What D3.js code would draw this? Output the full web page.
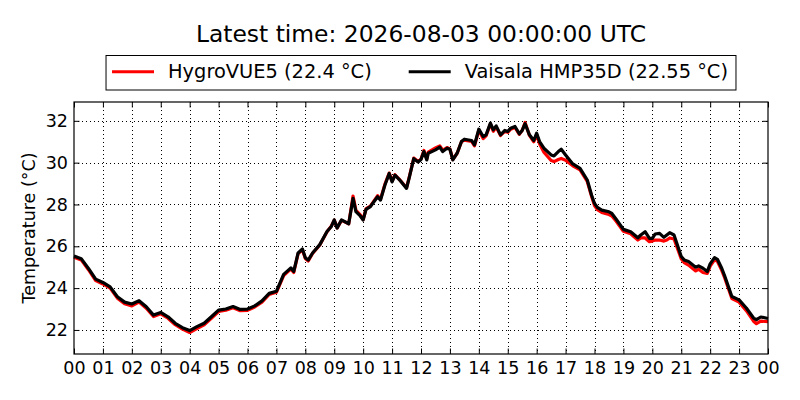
<!DOCTYPE html>
<html>
<head>
<meta charset="utf-8">
<script src="https://cdn.jsdelivr.net/npm/d3@7"></script>
<style>
  html, body { margin: 0; padding: 0; background: #fff; }
  svg { display: block; font-family: "DejaVu Sans", sans-serif; }
</style>
</head>
<body>
<svg id="chart" width="800" height="400"></svg>
<script>
// hours since 00 UTC
const hours = [
  0, 0.25, 0.5, 0.75, 1, 1.25, 1.5, 1.75, 2, 2.25, 2.5, 2.75, 3, 3.25, 3.5, 3.75,
  4, 4.25, 4.5, 4.75, 5, 5.25, 5.5, 5.75, 6, 6.25, 6.5, 6.75, 7, 7.25, 7.5, 7.6,
  7.75, 7.9, 8, 8.1, 8.25, 8.5, 8.75, 8.9, 9, 9.1, 9.25, 9.5, 9.65, 9.75, 9.9, 10,
  10.1, 10.25, 10.5, 10.6, 10.75, 10.9, 11, 11.1, 11.25, 11.5, 11.6, 11.75, 11.9, 12,
  12.1, 12.2, 12.25, 12.5, 12.65, 12.75, 12.9, 13, 13.1, 13.25, 13.4, 13.5, 13.75, 13.85, 14,
  14.15, 14.25, 14.4, 14.5, 14.6, 14.75, 14.9, 15, 15.1, 15.25, 15.4, 15.5, 15.6, 15.75,
  15.9, 16, 16.1, 16.25, 16.5, 16.6, 16.75, 16.85, 17, 17.25, 17.5, 17.75, 17.9, 18,
  18.1, 18.25, 18.5, 18.6, 18.75, 19, 19.25, 19.5, 19.6, 19.75, 19.9, 20, 20.1, 20.25,
  20.4, 20.5, 20.6, 20.75, 21, 21.1, 21.25, 21.5, 21.6, 21.75, 21.9, 22, 22.15, 22.25,
  22.4, 22.5, 22.75, 23, 23.25, 23.5, 23.6, 23.75, 24
];

const hygrovue = [
  25.48, 25.35, 24.88, 24.36, 24.2, 24.0, 23.52, 23.25, 23.15, 23.33, 23.04, 22.64, 22.77, 22.56, 22.25, 22.04,
  21.88, 22.06, 22.24, 22.56, 22.88, 22.94, 23.06, 22.92, 22.94, 23.1, 23.33, 23.7, 23.8, 24.6, 24.92, 24.75,
  25.65, 25.82, 25.42, 25.3, 25.66, 26.06, 26.7, 26.97, 27.25, 26.88, 27.24, 27.08, 28.4, 27.72, 27.5, 27.28,
  27.8, 27.92, 28.42, 28.25, 28.96, 29.5, 29.12, 29.42, 29.2, 28.8, 29.34, 30.22, 30.05, 30.17,
  30.58, 30.18, 30.5, 30.7, 30.8, 30.6, 30.72, 30.66, 30.15, 30.45, 31.0, 31.08, 31.02, 30.8, 31.55,
  31.15, 31.28, 31.85, 31.5, 31.7, 31.3, 31.5, 31.45, 31.6, 31.68, 31.35, 31.55, 31.92, 31.3,
  31.0, 31.35, 30.9, 30.5, 30.1, 30.05, 30.15, 30.2, 30.12, 29.85, 29.65, 29.1, 28.38, 27.95,
  27.75, 27.62, 27.52, 27.45, 27.2, 26.72, 26.6, 26.3, 26.4, 26.4, 26.22, 26.25, 26.3, 26.3,
  26.25, 26.3, 26.4, 26.35, 25.4, 25.22, 25.1, 24.82, 24.9, 24.75, 24.7, 25.05, 25.35, 25.28,
  24.85, 24.5, 23.5, 23.33, 22.92, 22.42, 22.3, 22.42, 22.4
];

const vaisala = [
  25.54, 25.41, 24.94, 24.43, 24.27, 24.06, 23.59, 23.33, 23.24, 23.4, 23.11, 22.71, 22.84, 22.63, 22.32, 22.11,
  21.97, 22.16, 22.32, 22.63, 22.95, 23.0, 23.12, 22.98, 23.0, 23.15, 23.39, 23.75, 23.85, 24.66, 24.97, 24.8,
  25.68, 25.87, 25.45, 25.34, 25.68, 26.08, 26.71, 26.95, 27.26, 26.87, 27.26, 27.08, 28.29, 27.66, 27.45, 27.26,
  27.77, 27.9, 28.37, 28.21, 28.92, 29.48, 29.08, 29.4, 29.19, 28.77, 29.32, 30.19, 30.03, 30.15,
  30.53, 30.13, 30.45, 30.61, 30.74, 30.53, 30.69, 30.64, 30.13, 30.45, 31.01, 31.12, 31.06, 30.85, 31.6,
  31.25, 31.33, 31.89, 31.57, 31.76, 31.33, 31.54, 31.49, 31.65, 31.73, 31.38, 31.54, 31.86, 31.33,
  31.06, 31.41, 31.01, 30.69, 30.37, 30.32, 30.53, 30.64, 30.37, 29.94, 29.73, 29.17, 28.44, 28.05,
  27.86, 27.73, 27.65, 27.57, 27.29, 26.81, 26.7, 26.41, 26.54, 26.7, 26.38, 26.38, 26.59, 26.62,
  26.43, 26.54, 26.65, 26.54, 25.51, 25.35, 25.27, 25.0, 25.06, 24.95, 24.79, 25.16, 25.46, 25.38,
  24.95, 24.59, 23.6, 23.44, 23.05, 22.57, 22.49, 22.62, 22.55
];

const xTicks = d3.range(0, 25);
const yTicks = [22, 24, 26, 28, 30, 32];
const seriesNames = ['HygroVUE5 (22.4 °C)', 'Vaisala HMP35D (22.55 °C)'];
const seriesColors = ['#ff0000', '#000000'];
const titleText = 'Latest time: 2026-08-03 00:00:00 UTC';

const svg = d3.select('#chart');
const m = { top: 102, right: 32, bottom: 46, left: 74 };
const W = 800, H = 400;
const w = W - m.left - m.right, h = H - m.top - m.bottom;
const fs = 17.5;      // ticks + axis label
const legFs = 19.4;   // legend
const titleFs = 23.4; // title

const x = d3.scaleLinear().domain([0, 24]).range([0, w]);
const y = d3.scaleLinear().domain([20.85, 32.9]).range([h, 0]);

const g = svg.append('g').attr('transform', `translate(${m.left},${m.top})`);

// grid (dotted, black)
g.selectAll('.gx').data(xTicks.slice(1, -1)).join('line')
  .attr('x1', d => Math.round(x(d)) + 0.5).attr('x2', d => Math.round(x(d)) + 0.5).attr('y1', 0).attr('y2', h)
  .attr('stroke', '#000').attr('stroke-width', 1).attr('stroke-dasharray', '1,3');
g.selectAll('.gy').data(yTicks).join('line')
  .attr('x1', 0).attr('x2', w).attr('y1', d => Math.round(y(d)) + 0.5).attr('y2', d => Math.round(y(d)) + 0.5)
  .attr('stroke', '#000').attr('stroke-width', 1).attr('stroke-dasharray', '1,3');

// lines
const line = d3.line().x((d, i) => x(hours[i])).y(d => y(d));
[hygrovue, vaisala].forEach((s, k) => {
  g.append('path').datum(s)
    .attr('d', line)
    .attr('fill', 'none')
    .attr('stroke', seriesColors[k])
    .attr('stroke-width', 3.2)
    .attr('stroke-linejoin', 'round');
});

// inward ticks on all sides
const tl = 5.5;
const fmtH = d => String(d % 24).padStart(2, '0');
g.append('g').attr('transform', `translate(0,${h})`)
  .call(d3.axisBottom(x).tickValues(xTicks).tickFormat(fmtH).tickSizeInner(-tl).tickSizeOuter(0).tickPadding(7.5))
  .call(a => a.select('.domain').remove())
  .call(a => a.selectAll('.tick line').attr('stroke', '#000'))
  .selectAll('text').attr('fill', '#000').style('font-size', fs + 'px').style('font-family', 'DejaVu Sans');
g.append('g')
  .call(d3.axisTop(x).tickValues(xTicks).tickFormat('').tickSizeInner(-tl).tickSizeOuter(0))
  .call(a => a.select('.domain').remove())
  .call(a => a.selectAll('.tick line').attr('stroke', '#000'));
g.append('g')
  .call(d3.axisLeft(y).tickValues(yTicks).tickSizeInner(-tl).tickSizeOuter(0).tickPadding(6))
  .call(a => a.select('.domain').remove())
  .call(a => a.selectAll('.tick line').attr('stroke', '#000'))
  .selectAll('text').attr('fill', '#000').style('font-size', fs + 'px').style('font-family', 'DejaVu Sans');
g.append('g').attr('transform', `translate(${w},0)`)
  .call(d3.axisRight(y).tickValues(yTicks).tickFormat('').tickSizeInner(-tl).tickSizeOuter(0))
  .call(a => a.select('.domain').remove())
  .call(a => a.selectAll('.tick line').attr('stroke', '#000'));

// frame
g.append('rect').attr('x', 0).attr('y', 0).attr('width', w).attr('height', h)
  .attr('fill', 'none').attr('stroke', '#000').attr('stroke-width', 1.2);

// y label
svg.append('text')
  .attr('transform', `translate(34.5,${m.top + h / 2}) rotate(-90)`)
  .attr('text-anchor', 'middle').attr('font-size', fs).attr('fill', '#000')
  .text('Temperature (°C)');

// title
svg.append('text')
  .attr('x', m.left + w / 2).attr('y', 41.7)
  .attr('text-anchor', 'middle').attr('font-size', titleFs).attr('fill', '#000')
  .text(titleText);

// legend
const lg = svg.append('g');
const handle = 42, pad = 14, gap = 37, inner = 6;
const labels = seriesNames.map(n => lg.append('text').attr('font-size', legFs).attr('fill', '#000').text(n));
const lens = labels.map(t => t.node().getComputedTextLength());
const total = inner * 2 + handle * 2 + pad * 2 + lens[0] + lens[1] + gap + 2;
let cx = m.left + w / 2 - total / 2;
const ly = 71.7;
lg.insert('rect', 'text')
  .attr('x', cx).attr('y', 55.5).attr('width', total).attr('height', 34.5)
  .attr('fill', '#fff').attr('stroke', '#000').attr('stroke-width', 1);
cx += inner;
seriesNames.forEach((n, k) => {
  lg.append('line').attr('x1', cx).attr('x2', cx + handle).attr('y1', ly).attr('y2', ly)
    .attr('stroke', seriesColors[k]).attr('stroke-width', 3);
  labels[k].attr('x', cx + handle + pad).attr('y', ly + 6.6);
  cx += handle + pad + lens[k] + gap;
});
</script>
</body>
</html>
